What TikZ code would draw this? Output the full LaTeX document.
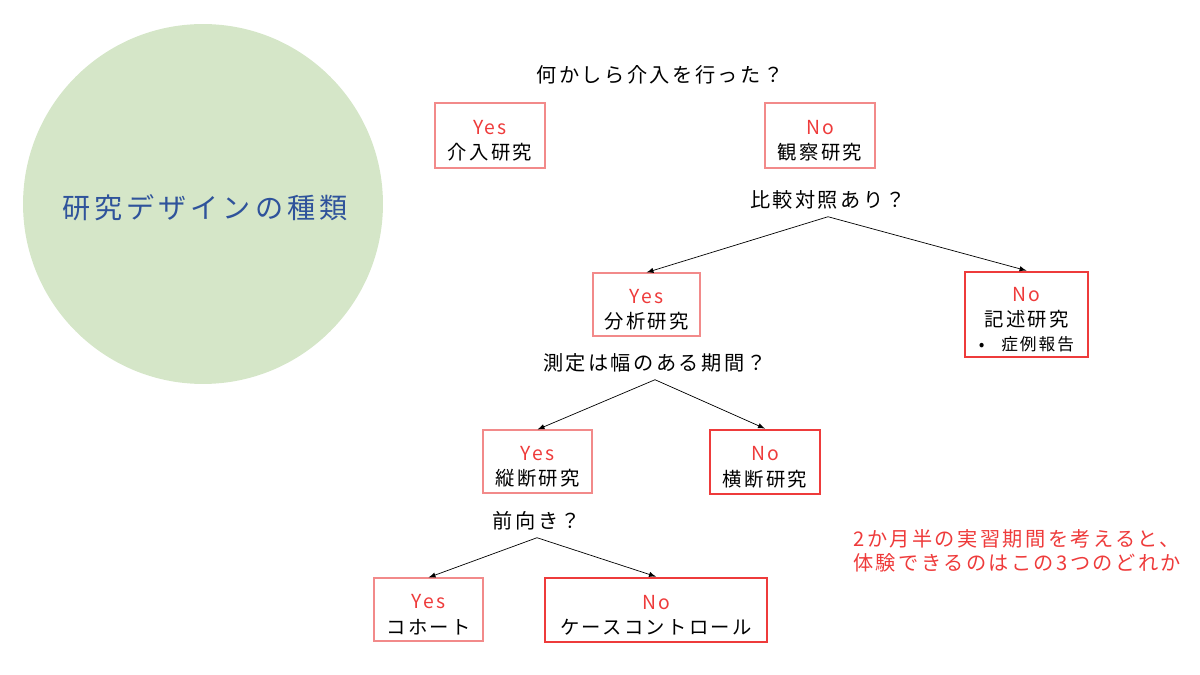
\documentclass[tikz,border=0pt]{standalone}
\usepackage{fontspec}
\setmainfont{Noto Sans CJK JP}[LetterSpace=12]
\newfontfamily\titlefont{Noto Sans CJK JP}[LetterSpace=14]
\usepackage{tikz}
\definecolor{circgreen}{HTML}{D5E6C8}
\definecolor{titleblue}{HTML}{2F539B}
\definecolor{penred}{HTML}{EE3B3B}
\definecolor{palered}{HTML}{F28A8A}
\newcommand{\answer}[2]{\rule{0pt}{14pt}\textcolor{penred}{#1}\\#2}

\begin{document}
\begin{tikzpicture}[x=0.02cm, y=-0.02cm, >=latex]
\tikzset{ques/.style={inner sep=4pt, font=\fontsize{11.5}{14}\selectfont},
 yesbox/.style={draw=palered, line width=0.6pt, align=center, inner sep=0pt, font=\fontsize{11}{14.5}\selectfont},
 nobox/.style={yesbox, draw=penred, line width=1.6pt}}
\useasboundingbox (0,0) rectangle (1200,675);
\fill[circgreen] (203,204) circle[radius=3.6cm];
\node[text=titleblue, font=\titlefont\fontsize{16}{18}\selectfont] (title) at (205,208) {研究デザインの種類};
% questions
\node[ques] (q1) at (660,75) {何かしら介入を行った？};
\node[ques] (q2) at (828,200) {比較対照あり？};
\node[ques] (q3) at (655,363) {測定は幅のある期間？};
\node[ques] (q4) at (537,521) {前向き？};
% answers
\node[yesbox, minimum width=2.2cm, minimum height=1.3cm] (intv) at (490,135.5) {\answer{Yes}{介入研究}};
\node[yesbox, minimum width=2.2cm, minimum height=1.3cm] (obs) at (820,135.5) {\answer{No}{観察研究}};
\node[yesbox, minimum width=2.14cm, minimum height=1.26cm] (anal) at (646.5,304.5) {\answer{Yes}{分析研究}};
\node[nobox, minimum width=2.46cm, minimum height=1.7cm] (desc) at (1026.5,314.5) {\answer{No}{記述研究}\\[-1pt]{\fontsize{9.5}{12}\selectfont •\quad 症例報告}};
\node[yesbox, minimum width=2.18cm, minimum height=1.26cm] (long) at (537.5,461.5) {\answer{Yes}{縦断研究}};
\node[nobox, minimum width=2.2cm, minimum height=1.28cm] (cross) at (765,462) {\answer{No}{横断研究}};
\node[yesbox, minimum width=2.18cm, minimum height=1.26cm] (coh) at (428.5,609.5) {\answer{Yes}{コホート}};
\node[nobox, minimum width=4.44cm, minimum height=1.28cm] (cc) at (656,610) {\answer{No}{ケースコントロール}};
% arrows
\draw[->] (q2.south) -- (anal.north);
\draw[->] (q2.south) -- (desc.north);
\draw[->] (q3.south) -- (long.north);
\draw[->] (q3.south) -- (cross.north);
\draw[->] (q4.south) -- (coh.north);
\draw[->] (q4.south) -- (cc.north);
% note
\node[anchor=north west, align=left, text=penred, inner sep=0pt, font=\fontsize{11.5}{14}\selectfont] (note) at (853,529) {2か月半の実習期間を考えると、\\体験できるのはこの3つのどれか};
\end{tikzpicture}
\end{document}
